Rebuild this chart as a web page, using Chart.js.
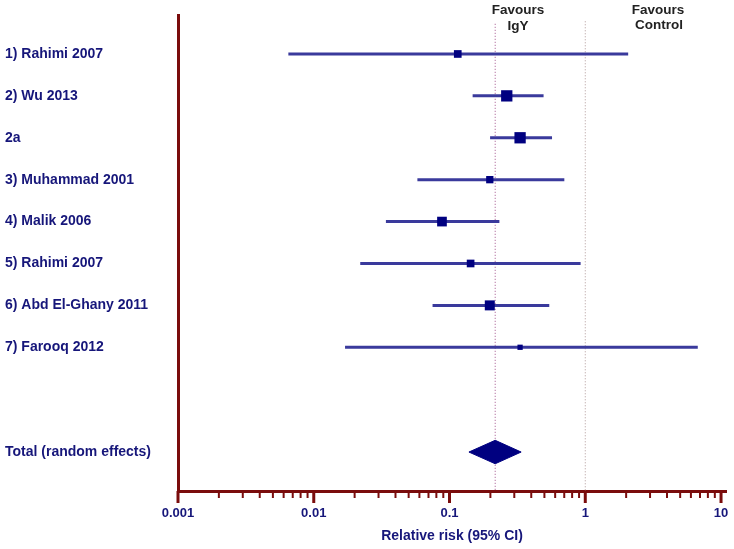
<!DOCTYPE html>
<html>
<head>
<meta charset="utf-8">
<script src="https://cdn.jsdelivr.net/npm/chart.js@4.4.1/dist/chart.umd.min.js"></script>
<style>
  html,body{margin:0;padding:0;background:#fff;}
  #wrap{width:734px;height:549px;}
</style>
</head>
<body>
<div id="wrap"><canvas id="grafico" width="734" height="549"></canvas></div>
<script>
// datos
const estudios = ['1) Rahimi 2007','2) Wu 2013','2a','3) Muhammad 2001','4) Malik 2006',
                  '5) Rahimi 2007','6) Abd El-Ghany 2011','7) Farooq 2012'];
const rr      = [0.115, 0.264, 0.331, 0.198, 0.088, 0.143, 0.198, 0.331];
const ciBajo  = [0.0065, 0.148, 0.199, 0.058, 0.034, 0.022, 0.075, 0.017];
const ciAlto  = [2.07, 0.493, 0.569, 0.701, 0.233, 0.924, 0.543, 6.74];
const pesos   = [9.1, 19.7, 19.7, 8.2, 14.5, 9.1, 15.4, 4.3];   // % weight

const totalLabel = 'Total (random effects)';
const totalRR    = 0.217;
const totalBajo  = 0.139;
const totalAlto  = 0.337;

const ticksX     = ['0.001','0.01','0.1','1','10'];
const filaTotal  = 10.5;
const xMax       = 10.88;

const navy   = '#16167a';
const rojo   = '#7a0c0c';
const fuente = 'Arial, "Liberation Sans", sans-serif';

const filas = estudios.map((_, i) => i + 1);
const posY  = filas.concat([filaTotal]);
const nombresY = estudios.concat([totalLabel]);

const datasets = [];

// cuadrados
datasets.push({
  data: rr.map((v, i) => ({x: v, y: filas[i]})),
  pointStyle: 'rect',
  pointRadius: pesos.map(w => Math.sqrt(w) * 2.546 / 1.414),
  backgroundColor: '#000080', borderColor: '#000080', borderWidth: 0,
  order: 0
});

// intervalos
rr.forEach((v, i) => {
  datasets.push({
    data: [{x: ciBajo[i], y: filas[i]}, {x: ciAlto[i], y: filas[i]}],
    showLine: true, pointRadius: 0,
    borderColor: '#3a3a9c', borderWidth: 3,
    order: 1
  });
});

// rombo
const h = 0.28;
datasets.push({
  data: [{x: totalBajo, y: filaTotal}, {x: totalRR, y: filaTotal - h},
         {x: totalAlto, y: filaTotal}, {x: totalRR, y: filaTotal + h},
         {x: totalBajo, y: filaTotal}],
  showLine: true, pointRadius: 0, fill: 'shape',
  backgroundColor: '#000080', borderColor: '#000080', borderWidth: 1,
  order: 1
});

// lineas de referencia
datasets.push({
  data: [{x: totalRR, y: 0.28}, {x: totalRR, y: 11.43}],
  showLine: true, pointRadius: 0, borderColor: '#a0508a', borderWidth: 1,
  borderDash: [1, 2], order: 3
});
datasets.push({
  data: [{x: 1, y: 0.22}, {x: 1, y: 11.43}],
  showLine: true, pointRadius: 0, borderColor: '#b09898', borderWidth: 1,
  borderDash: [1, 2], order: 3
});

const marcas = {
  id: 'marcas',
  afterDraw(chart) {
    const c = chart.ctx;
    const sx = chart.scales.x;
    const y0 = sx.top;
    c.save();
    c.strokeStyle = rojo;
    sx.ticks.forEach(t => {
      if (t.value > 10.001) return;
      const px = sx.getPixelForValue(t.value);
      c.lineWidth = t.major ? 3 : 2;
      c.beginPath();
      c.moveTo(px, y0);
      c.lineTo(px, y0 + (t.major ? 12 : 7));
      c.stroke();
    });
    c.fillStyle = '#222';
    c.font = 'bold 13.5px ' + fuente;
    c.textAlign = 'center';
    c.textBaseline = 'middle';
    c.fillText('Favours', 518, 10);
    c.fillText('IgY', 518, 26);
    c.fillText('Favours', 658, 10);
    c.fillText('Control', 659, 25);
    c.restore();
  }
};

new Chart(document.getElementById('grafico'), {
  type: 'scatter',
  data: {datasets},
  options: {
    responsive: false,
    animation: false,
    events: [],
    layout: {padding: {left: 5, right: 5, top: 15, bottom: 0}},
    plugins: {legend: {display: false}, tooltip: {enabled: false}},
    scales: {
      x: {
        type: 'logarithmic',
        min: 0.001, max: xMax,
        afterBuildTicks: s => {
          const t = [];
          [0.001, 0.01, 0.1, 1].forEach(d => {
            for (let k = 1; k <= 9; k++) t.push({value: d * k, major: k === 1});
          });
          t.push({value: 10, major: true});
          t.push({value: xMax, major: false});
          s.ticks = t;
        },
        afterFit: s => { s.height = 58; s.paddingLeft = 0; s.paddingRight = 0; },
        grid: {display: true, drawOnChartArea: false, drawTicks: true,
               tickLength: 15, tickColor: 'rgba(0,0,0,0)'},
        border: {display: true, color: rojo, width: 3},
        ticks: {
          autoSkip: false, maxRotation: 0, padding: 0,
          color: navy,
          font: {family: fuente, size: 13, weight: 'bold'},
          callback: function(v, i, arr) {
            const e = Math.log10(v);
            if (Math.abs(e - Math.round(e)) < 1e-6) return ticksX[Math.round(e) + 3];
            return '';
          }
        },
        title: {
          display: true, text: 'Relative risk (95% CI)', color: navy,
          font: {family: fuente, size: 14, weight: 'bold'},
          padding: {top: 0, bottom: 4}
        }
      },
      y: {
        type: 'linear', reverse: true,
        min: 0.07, max: 11.43,
        afterBuildTicks: s => { s.ticks = posY.map(v => ({value: v})); },
        afterFit: s => { s.width = 173; s.paddingTop = 0; s.paddingBottom = 0; },
        grid: {display: false, drawTicks: false},
        border: {display: true, color: rojo, width: 3},
        ticks: {
          autoSkip: false, crossAlign: 'far', padding: 0,
          color: navy,
          font: {family: fuente, size: 14, weight: 'bold'},
          callback: (v, i) => nombresY[i]
        }
      }
    }
  },
  plugins: [marcas]
});
</script>
</body>
</html>
